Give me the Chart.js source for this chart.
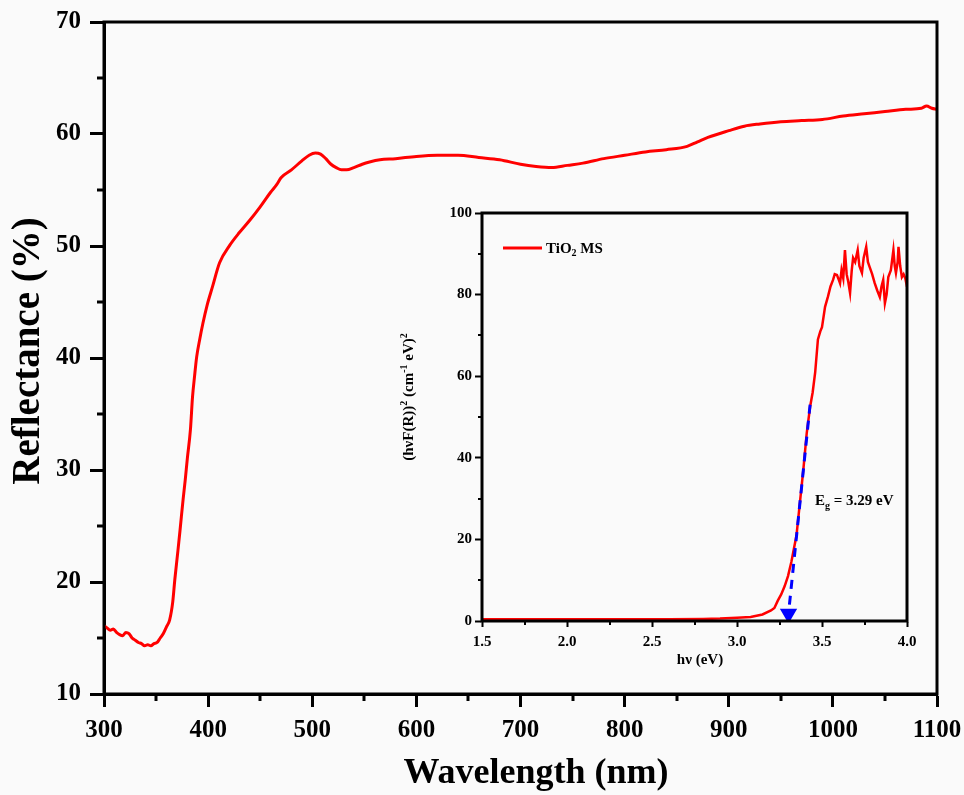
<!DOCTYPE html>
<html>
<head>
<meta charset="utf-8">
<script src="https://cdn.jsdelivr.net/npm/chart.js@4.4.1/dist/chart.umd.min.js"></script>
<style>
    html, body { margin: 0; padding: 0; background: #fafafa; }
    #wrap { position: relative; width: 964px; height: 795px; }
    #mainChart { position: absolute; left: 0; top: 0; }
    #insetChart { position: absolute; left: 380px; top: 200px; }
</style>
</head>
<body>
<div id="wrap">
    <canvas id="mainChart" width="964" height="795"></canvas>
    <canvas id="insetChart" width="540" height="480"></canvas>
</div>
<script>
// ==================== Data ====================

// main spectrum: reflectance vs wavelength
const wavelength = [300, 303, 306, 309, 312, 315, 318, 321, 324, 327, 330, 333, 336, 339, 342, 345, 348, 351, 354, 357,
    360, 363, 366, 368, 371, 373, 376, 378, 380, 383, 385, 387, 389, 392, 395, 399, 404, 411, 421, 430, 440, 450, 460, 466,
    470, 480, 490, 497, 503, 508, 513, 518, 523, 528, 533, 540, 548, 555, 565, 580, 600, 620, 640, 660, 680, 700, 715, 730,
    745, 760, 780, 800, 820, 840, 860, 870, 880, 900, 915, 930, 950, 970, 990, 1010, 1030, 1050, 1070, 1085, 1090, 1095, 1100];
const reflectance = [16.1, 15.9, 15.7, 15.8, 15.5, 15.3, 15.2, 15.5, 15.4, 15.0, 14.8, 14.6, 14.5, 14.3, 14.4, 14.3, 14.5, 14.6, 15.0, 15.4,
    16.0, 16.6, 18.2, 20.2, 22.8, 24.6, 27.4, 29.1, 31.0, 33.6, 36.5, 38.4, 40.1, 41.7, 43.1, 44.7, 46.3, 48.5, 50.1, 51.2, 52.3, 53.5, 54.8, 55.5,
    56.1, 56.8, 57.6, 58.1, 58.3, 58.2, 57.8, 57.3, 57.0, 56.8, 56.8, 57.0, 57.3, 57.5, 57.7, 57.8, 58.0, 58.1, 58.1, 57.9, 57.7, 57.3, 57.1, 57.0,
    57.2, 57.4, 57.8, 58.1, 58.4, 58.6, 58.9, 59.3, 59.7, 60.3, 60.7, 60.9, 61.1, 61.2, 61.3, 61.6, 61.8, 62.0, 62.2, 62.3, 62.5, 62.3, 62.2];

// inset: Kubelka-Munk plot
const photonEnergy = [1.5, 2.0, 2.6, 2.8, 2.9, 3.0, 3.08, 3.15, 3.2, 3.22, 3.24, 3.26, 3.28, 3.30, 3.32, 3.35, 3.37, 3.39, 3.41, 3.43,
    3.445, 3.46, 3.476, 3.49, 3.50, 3.518, 3.535, 3.55, 3.565, 3.575, 3.588, 3.6, 3.606, 3.615, 3.625, 3.635, 3.645, 3.655, 3.665,
    3.675, 3.683, 3.695, 3.71, 3.72, 3.735, 3.745, 3.76, 3.77, 3.78, 3.795, 3.81, 3.825, 3.84, 3.85, 3.86, 3.87, 3.88, 3.89, 3.905,
    3.92, 3.928, 3.935, 3.945, 3.95, 3.96, 3.97, 3.98, 3.99, 4.0];
const kmValue = [0.4, 0.4, 0.4, 0.5, 0.6, 0.8, 1.0, 1.6, 2.6, 3.2, 5.0, 6.5, 8.5, 11.0, 14.5, 21, 29, 37, 46, 52.5,
    56, 61, 69, 71, 72, 77, 79.5, 82, 83.6, 85, 84.8, 83.5, 82.8, 86, 84, 90.9, 85, 83, 80.4,
    86, 89, 88, 90.9, 87, 85.3, 89, 91.7, 88, 86.8, 85, 82.8, 81, 79.4, 82, 83.6, 77.9, 80, 84.3, 86,
    90.9, 87, 85.3, 88, 91.7, 87, 84.3, 85, 84, 81.9];

// tangent line (Tauc extrapolation) ending in an arrow at Eg
const tangentEnergy = [3.43, 3.303];
const tangentValue = [53, 1.8];

const mainMinorX = [350, 450, 550, 650, 750, 850, 950, 1050];
const mainMinorY = [15, 25, 35, 45, 55, 65];
const insetMinorX = [1.75, 2.25, 2.75, 3.25, 3.75];
const insetMinorY = [10, 30, 50, 70, 90];

// ==================== Helpers ====================

const SERIF = "'Liberation Serif', 'Times New Roman', serif";

function toPoints(xs, ys) {
    return xs.map((x, i) => ({ x: x, y: ys[i] }));
}

/**
 * 첨자 포함 텍스트 그리기 (parts: {t, size, dy})
 */
function richWidth(ctx, parts) {
    let w = 0;
    parts.forEach(p => {
        ctx.font = `bold ${p.size}px ${SERIF}`;
        w += ctx.measureText(p.t).width;
    });
    return w;
}

function drawRich(ctx, parts, x, y) {
    ctx.textBaseline = 'alphabetic';
    ctx.textAlign = 'left';
    parts.forEach(p => {
        ctx.font = `bold ${p.size}px ${SERIF}`;
        ctx.fillText(p.t, x, y + (p.dy || 0));
        x += ctx.measureText(p.t).width;
    });
}

function drawMinorTicks(chart, xs, ys, len, width) {
    const ctx = chart.ctx;
    const area = chart.chartArea;
    const sx = chart.scales.x;
    const sy = chart.scales.y;
    ctx.save();
    ctx.strokeStyle = '#000';
    ctx.lineWidth = width;
    ctx.beginPath();
    xs.forEach(v => {
        const px = Math.round(sx.getPixelForValue(v));
        ctx.moveTo(px, area.bottom);
        ctx.lineTo(px, area.bottom + len);
    });
    ys.forEach(v => {
        const py = Math.round(sy.getPixelForValue(v));
        ctx.moveTo(area.left - len, py);
        ctx.lineTo(area.left, py);
    });
    ctx.stroke();
    ctx.restore();
}

function drawBox(chart, width) {
    const ctx = chart.ctx;
    const a = chart.chartArea;
    ctx.save();
    ctx.strokeStyle = '#000';
    ctx.lineWidth = width;
    ctx.strokeRect(a.left, a.top, a.right - a.left, a.bottom - a.top);
    ctx.restore();
}

// 축 크기 고정 (라벨 넘침 패딩 제거)
function fixSize(prop, size) {
    return s => {
        s[prop] = size;
        s.paddingLeft = 0;
        s.paddingRight = 0;
        s.paddingTop = 0;
        s.paddingBottom = 0;
    };
}

function axisOptions(min, max, step, fontSize, tickLen, tickWidth, pad, fmt) {
    return {
        type: 'linear',
        min: min,
        max: max,
        ticks: {
            stepSize: step,
            color: '#000',
            padding: pad,
            maxRotation: 0,
            autoSkip: false,
            font: { family: SERIF, size: fontSize, weight: 'bold' },
            callback: fmt || (v => v)
        },
        grid: { drawOnChartArea: false, drawTicks: true, tickLength: tickLen, tickWidth: tickWidth, tickColor: '#000' },
        border: { display: true, color: '#000', width: tickWidth }
    };
}

// ==================== Main chart ====================

const mainDecor = {
    id: 'mainDecor',
    afterDraw(chart) {
        drawBox(chart, 3);
        drawMinorTicks(chart, mainMinorX, mainMinorY, 7, 3);
        const ctx = chart.ctx;
        ctx.save();
        ctx.fillStyle = '#000';
        ctx.font = `bold 36px ${SERIF}`;
        ctx.textAlign = 'center';
        ctx.textBaseline = 'middle';
        ctx.fillText('Wavelength (nm)', 536, 774);
        ctx.font = `bold 39px ${SERIF}`;
        ctx.translate(29, 351);
        ctx.rotate(-Math.PI / 2);
        ctx.fillText('Reflectance (%)', 0, 0);
        ctx.restore();
    }
};

const mainX = axisOptions(300, 1100, 100, 25, 13, 3, 9);
mainX.afterFit = fixSize('height', 101);
const mainY = axisOptions(10, 70, 10, 25, 14, 3, 9);
mainY.afterFit = fixSize('width', 104);

new Chart(document.getElementById('mainChart'), {
    type: 'line',
    data: {
        datasets: [{
            data: toPoints(wavelength, reflectance),
            borderColor: '#ff0000',
            borderWidth: 3,
            pointRadius: 0,
            cubicInterpolationMode: 'monotone'
        }]
    },
    options: {
        responsive: false,
        animation: false,
        devicePixelRatio: 1,
        layout: { padding: { top: 22, right: 27, left: 0, bottom: 0 } },
        plugins: { legend: { display: false }, tooltip: { enabled: false } },
        scales: { x: mainX, y: mainY }
    },
    plugins: [mainDecor]
});

// ==================== Inset chart ====================

const insetDecor = {
    id: 'insetDecor',
    afterDraw(chart) {
        drawBox(chart, 3);
        drawMinorTicks(chart, insetMinorX, insetMinorY, 4, 2);
        const ctx = chart.ctx;
        const sy = chart.scales.y;
        ctx.save();
        ctx.fillStyle = '#000';

        // legend
        const ly = sy.getPixelForValue(91.4);
        ctx.strokeStyle = '#ff0000';
        ctx.lineWidth = 3;
        ctx.beginPath();
        ctx.moveTo(123, ly);
        ctx.lineTo(162, ly);
        ctx.stroke();
        drawRich(ctx, [{ t: 'TiO', size: 15 }, { t: '2', size: 10, dy: 3 }, { t: ' MS', size: 15 }], 166, ly + 5);

        // band gap label
        drawRich(ctx, [{ t: 'E', size: 15 }, { t: 'g', size: 10, dy: 4 }, { t: ' = 3.29 eV', size: 15 }], 435, 305);

        // axis titles
        ctx.font = `bold 15px ${SERIF}`;
        ctx.textAlign = 'center';
        ctx.textBaseline = 'middle';
        ctx.fillText('h\u03bd (eV)', 320, 460);

        const yParts = [
            { t: '(h\u03bdF(R))', size: 15 }, { t: '2', size: 10, dy: -6 },
            { t: ' (cm', size: 15 }, { t: '-1', size: 10, dy: -6 },
            { t: ' eV)', size: 15 }, { t: '2', size: 10, dy: -6 }
        ];
        const w = richWidth(ctx, yParts);
        ctx.translate(33, 197);
        ctx.rotate(-Math.PI / 2);
        drawRich(ctx, yParts, -w / 2, 0);
        ctx.restore();
    }
};

const insetX = axisOptions(1.5, 4.0, 0.5, 15, 6, 2, 6, v => v.toFixed(1));
insetX.afterFit = fixSize('height', 59);
const insetY = axisOptions(0, 100, 20, 15, 7, 2, 3);
insetY.afterFit = fixSize('width', 102);

new Chart(document.getElementById('insetChart'), {
    type: 'line',
    data: {
        datasets: [
            {
                data: toPoints(tangentEnergy, tangentValue),
                borderColor: '#0000ff',
                borderWidth: 3,
                borderDash: [9, 7],
                pointRadius: [0, 7],
                pointStyle: 'triangle',
                pointRotation: 180,
                pointBackgroundColor: '#0000ff',
                pointBorderColor: '#0000ff',
                order: 0
            },
            {
                data: toPoints(photonEnergy, kmValue),
                borderColor: '#ff0000',
                borderWidth: 2.5,
                pointRadius: 0,
                tension: 0,
                order: 1
            }
        ]
    },
    options: {
        responsive: false,
        animation: false,
        devicePixelRatio: 1,
        layout: { padding: { top: 13, right: 13, left: 0, bottom: 0 } },
        plugins: { legend: { display: false }, tooltip: { enabled: false } },
        scales: { x: insetX, y: insetY }
    },
    plugins: [insetDecor]
});
</script>
</body>
</html>
